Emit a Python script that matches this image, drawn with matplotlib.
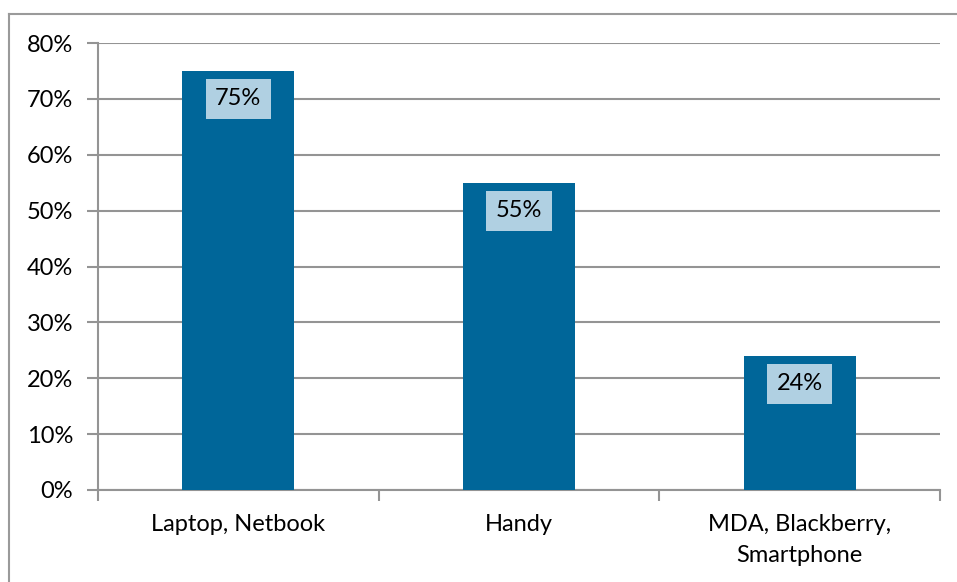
import matplotlib.pyplot as plt
from matplotlib.lines import Line2D
from matplotlib.ticker import PercentFormatter, FixedLocator

categories = ["Laptop, Netbook", "Handy", "MDA, Blackberry,\nSmartphone"]
shares = [75, 55, 24]
y_ticks = [0, 10, 20, 30, 40, 50, 60, 70, 80]

bar_color = "#006699"
box_color = "#b0d0e2"
line_gray = "#949494"

plt.rcParams["font.family"] = ["Lato", "DejaVu Sans"]
fs = 17

fig = plt.figure(figsize=(9.57, 5.82), dpi=100)
ax = fig.add_axes([98 / 957, 1 - 490 / 582, (940 - 98) / 957, (490 - 43) / 582])

x = list(range(len(categories)))
bars = ax.bar(x, shares, width=0.4, color=bar_color, zorder=3)

ax.set_xlim(-0.5, len(categories) - 0.5)
ax.set_ylim(0, 80)
ax.set_yticks(y_ticks)
ax.yaxis.set_major_formatter(PercentFormatter(100, decimals=0))
ax.yaxis.grid(True, color=line_gray, linewidth=1.5, zorder=0)

ax.set_xticks(x)
ax.set_xticklabels(categories, linespacing=1.6)
ax.xaxis.set_minor_locator(FixedLocator([i - 0.5 for i in range(len(categories) + 1)]))
ax.tick_params(axis="x", which="major", length=0, pad=17, labelsize=fs)
ax.tick_params(axis="x", which="minor", length=8, width=1.5, color=line_gray)
ax.tick_params(axis="y", length=8, width=1.5, color=line_gray, pad=10, labelsize=fs)

for side in ("top", "right"):
    ax.spines[side].set_visible(False)
for side in ("left", "bottom"):
    ax.spines[side].set_color(line_gray)
    ax.spines[side].set_linewidth(1.5)

# value labels in light boxes just under each bar top
for rect, val in zip(bars, shares):
    ax.annotate(
        f"{val}%",
        xy=(rect.get_x() + rect.get_width() / 2, val),
        xytext=(0, -28),
        textcoords="offset pixels",
        ha="center",
        va="center",
        fontsize=fs,
        zorder=4,
        bbox=dict(boxstyle="square,pad=0.4", facecolor=box_color, edgecolor="none"),
    )

# chart-area frame (left and top edges)
fig.add_artist(Line2D([9 / 957, 9 / 957], [0, 1 - 14 / 582], transform=fig.transFigure,
                      color="#9a9a9a", linewidth=1.5))
fig.add_artist(Line2D([9 / 957, 1], [1 - 14 / 582, 1 - 14 / 582], transform=fig.transFigure,
                      color="#9a9a9a", linewidth=1.5))

fig.savefig("out.png", dpi=100)
plt.close(fig)
